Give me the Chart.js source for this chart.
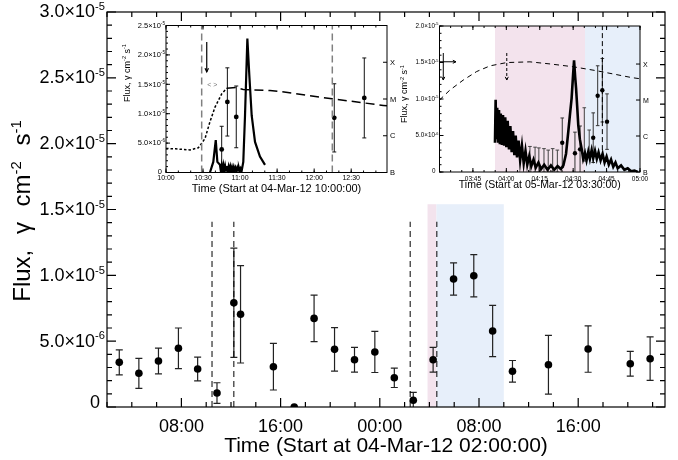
<!DOCTYPE html>
<html>
<head>
<meta charset="utf-8">
<title>Gamma-ray flux, 04-05 Mar 2012</title>
<script src="https://cdn.jsdelivr.net/npm/chart.js@4.4.1/dist/chart.umd.min.js"></script>
<style>
  html, body { margin: 0; padding: 0; background: #fff; }
  #wrap { position: relative; width: 678px; height: 460px; }
  canvas { position: absolute; }
  #main { left: 0; top: 0; }
  #inset1 { left: 112px; top: 12px; }
  #inset2 { left: 395px; top: 12px; }
</style>
</head>
<body>
<div id="wrap">
  <canvas id="main" width="678" height="460"></canvas>
  <canvas id="inset1" width="294" height="190"></canvas>
  <canvas id="inset2" width="283" height="190"></canvas>
</div>
<script>
const FONT = '"Liberation Sans", Arial, Helvetica, sans-serif';

// main panel: hours after 04-Mar-12 02:00:00, flux in units of 1e-6
const mainHours = [0.99, 2.57, 4.15, 5.76, 7.31, 8.87, 10.23, 10.77, 13.42, 15.1, 16.7, 18.35, 19.96,
                   21.6, 23.17, 24.7, 26.3, 27.95, 29.58, 31.1, 32.7, 35.6, 38.8, 42.2, 43.8];
const mainFlux = [3.39, 2.56, 3.49, 4.46, 2.89, 1.06, 7.92, 7.04, 3.06, 0.0, 6.73, 4.38, 3.59,
                  4.18, 2.22, 0.51, 3.59, 9.72, 9.97, 5.77, 2.71, 3.21, 4.40, 3.29, 3.67];
const mainErr = [0.95, 1.14, 0.98, 1.54, 0.90, 0.78, 4.15, 3.70, 1.77, 0.0, 1.76, 1.65, 0.94,
                 1.56, 0.74, 0.60, 0.94, 1.23, 1.60, 1.95, 0.82, 2.23, 1.76, 0.94, 1.65];
const mainDashHours = [8.47, 10.23, 24.45, 26.6];
const mainDashTop = 14.07;
const mainPink = [25.85, 26.57];
const mainBlue = [26.57, 32.0];
const mainBandTop = 15.4;
const mainXTicks = [6, 14, 22, 30, 38];
const mainXLabels = ["08:00", "16:00", "00:00", "08:00", "16:00"];
const mainYTicks = [0, 5, 10, 15, 20, 25, 30];
const mainYLabels = ["0", "5.0×10^{-6}", "1.0×10^{-5}", "1.5×10^{-5}", "2.0×10^{-5}", "2.5×10^{-5}", "3.0×10^{-5}"];

// inset 1: minutes after 04-Mar-12 10:00:00
const in1GoesAMin = [0, 7.8, 19.4, 26.2, 31.6, 35.6, 39.7, 45.1, 49.2];
const in1GoesA = [4.5e-7, 4.4e-7, 4.1e-7, 4.7e-7, 8.4e-7, 2.4e-6, 6.0e-6, 1.38e-5, 1.96e-5];
const in1GoesBMin = [49.2, 57.3, 62.6, 84.2, 92.3, 134.5, 176, 179];
const in1GoesB = [1.96e-5, 2.05e-5, 1.81e-5, 1.7e-5, 1.6e-5, 1.01e-5, 6.7e-6, 6.5e-6];
const in1CurveMin = [35.6, 38.3, 40.3, 41.6, 43.7,
                     44.4, 45.1, 45.8, 46.5, 47.2, 47.9, 48.6, 49.3, 50.0, 50.7, 51.4, 52.1,
                     52.8, 53.5, 54.2, 54.9, 55.6, 56.3, 57.0, 57.7, 58.4, 59.1, 59.8, 60.5,
                     61.3, 62.6, 64.0, 65.9, 67.5, 69.4, 72.1, 76.1, 80.2];
const in1Curve = [0, 1.8, 5.5, 1.8, 1.3,
                  0.3, 1.2, 0.3, 1.2, 0.3, 1.1, 0.3, 1.1, 0.3, 1.0, 0.3, 1.0,
                  0.3, 0.9, 0.3, 0.9, 0.3, 0.8, 0.3, 0.8, 0.3, 0.8, 0.3, 0.7,
                  0.3, 1.8, 9.7, 22.8, 16.5, 9.7, 5.2, 2.7, 1.3];
const in1PtMin = [45.1, 49.7, 56.9, 136.3, 160.6];
const in1PtFlux = [3.93, 12.0, 9.46, 9.29, 12.68];
const in1PtErr = [3.93, 5.8, 5.25, 5.8, 6.8];
const in1DashMin = [28.9, 134.7];
const in1XTicks = [0, 30, 60, 90, 120, 150];
const in1XLabels = ["10:00", "10:30", "11:00", "11:30", "12:00", "12:30"];
const in1YTicks = [0, 5, 10, 15, 20, 25];
const in1YLabels = ["0", "5.0×10^{-6}", "1.0×10^{-5}", "1.5×10^{-5}", "2.0×10^{-5}", "2.5×10^{-5}"];
const goesTicks = [1e-7, 1e-6, 1e-5, 1e-4, 1e-3];
const goesLabels = ["B", "C", "M", "X", ""];

// inset 2: minutes after 05-Mar-12 03:30:00
const in2GoesMin = [0, 4.7, 10.7, 16.7, 22.7, 30.2, 40.6, 50, 60, 70.6, 86.3, 90];
const in2Goes = [1.0e-5, 1.9e-5, 3.6e-5, 6.2e-5, 8.9e-5, 1.1e-4, 1.15e-4, 1.0e-4, 8.4e-5, 6.5e-5, 4.2e-5, 3.9e-5];
const in2CurveMin = [24.9, 25.2, 25.5, 25.9, 26.3, 26.7, 27.1, 27.5, 28, 28.5, 29, 29.5, 30, 30.6, 31.2, 31.8,
                     32.4, 33, 33.6, 34.2, 34.8, 35.5, 36.2, 37, 37.8, 38.6, 39.4, 40.3, 41.2, 42.2, 43.2,
                     44.4, 45.6, 47, 48.5, 50, 51.5, 53, 54.5, 55.6, 56.8, 57.8, 58.6, 59.3, 60, 60.4,
                     60.9, 61.3, 61.8, 62.3, 63, 63.8, 64.5, 65.3, 66, 66.8, 67.5, 68.3, 69, 69.8, 70.6,
                     71.4, 72.3, 73.2, 74.1, 75, 76, 77, 78, 79, 80, 81.5, 83, 84.5, 86, 87.5, 89];
const in2Curve = [4.0, 9.9, 4.5, 8.8, 4.2, 8.5, 3.8, 8.0, 3.7, 7.8, 3.6, 7.5, 3.4, 7.0, 3.1, 6.3,
                  2.7, 5.6, 2.3, 5.0, 2.0, 4.3, 1.6, 3.6, 1.2, 2.9, 1.0, 2.2, 0.8, 1.7, 0.6,
                  1.3, 0.4, 1.0, 0.3, 0.9, 0.3, 0.8, 0.4, 0.9, 2.5, 5.5, 8.0, 10.1, 13.5, 15.3,
                  13.0, 11.5, 9.0, 6.4, 4.5, 3.2, 1.8, 2.6, 1.6, 2.8, 1.8, 3.0, 1.9, 2.9, 1.8,
                  2.7, 1.6, 2.5, 1.3, 2.1, 1.0, 1.7, 0.7, 1.3, 0.5, 0.9, 0.3, 0.5, 0.1, 0.2, 0.0];
const in2PtMin = [55.1, 60.8, 63.1, 69.0, 71.0, 73.1, 75.2];
const in2PtFlux = [4.0, 2.56, 3.1, 4.7, 10.45, 11.2, 6.9];
const in2PtErr = [3.4, 2.9, 3.2, 3.4, 4.1, 4.35, 3.8];
const in2BarMin = [40.6, 42.9, 44.6, 46.9, 48.8, 50.8, 52.9, 65.0, 67.2];
const in2BarLo = [0, 0, 0, 0, 0, 0, 0, 1.5, 2.3];
const in2BarHi = [3.5, 3.4, 3.3, 3.2, 3.0, 3.2, 3.0, 8.8, 5.75];
const in2Pink = [24.9, 65.3];
const in2Blue = [65.3, 90];
const in2DashMin = 73.1;
const in2XTicks = [15, 30, 45, 60, 75, 90];
const in2XLabels = ["03:45", "04:00", "04:15", "04:30", "04:45", "05:00"];
const in2YTicks = [0, 5, 10, 15, 20];
const in2YLabels = ["0", "5.0×10^{-6}", "1.0×10^{-5}", "1.5×10^{-5}", "2.0×10^{-5}"];

const PINK = '#f3e3ed';
const BLUE = '#e7effa';

function range(from, to, step) {
  const out = [];
  for (let v = from; v <= to + 1e-9; v += step) out.push(+v.toFixed(6));
  return out;
}

function pts(xs, ys) {
  return xs.map((x, i) => ({ x: x, y: ys[i] }));
}

function line(xs, ys, color, width, dash, axis) {
  return { data: pts(xs, ys), showLine: true, pointRadius: 0, borderColor: color,
           borderWidth: width, borderDash: dash || [], yAxisID: axis || 'y' };
}

function dots(xs, ys, r) {
  return { data: pts(xs, ys), pointRadius: r, pointBackgroundColor: '#000',
           pointBorderWidth: 0, borderColor: '#000' };
}

// text with ^{...} superscripts
function drawRich(ctx, str, x, y, size, align, wordGap) {
  const parts = [];
  const re = /\^\{([^}]*)\}/g;
  let last = 0, m;
  while ((m = re.exec(str))) {
    if (m.index > last) parts.push({ t: str.slice(last, m.index), sup: false });
    parts.push({ t: m[1], sup: true });
    last = re.lastIndex;
  }
  if (last < str.length) parts.push({ t: str.slice(last), sup: false });
  ctx.wordSpacing = (wordGap || 0) + 'px';
  let w = 0;
  parts.forEach(p => {
    ctx.font = (p.sup ? size * 0.62 : size) + 'px ' + FONT;
    p.w = ctx.measureText(p.t).width;
    w += p.w;
  });
  let cx = align === 'right' ? x - w : align === 'center' ? x - w / 2 : x;
  ctx.textAlign = 'left';
  ctx.textBaseline = 'alphabetic';
  parts.forEach(p => {
    ctx.font = (p.sup ? size * 0.62 : size) + 'px ' + FONT;
    ctx.fillText(p.t, cx, p.sup ? y - size * 0.4 : y);
    cx += p.w;
  });
  ctx.wordSpacing = '0px';
}

function framePlugin(spec) {
  return {
    id: 'frame',
    beforeDatasetsDraw(chart) {
      const ctx = chart.ctx, a = chart.chartArea, sx = chart.scales.x;
      ctx.save();
      (spec.bands || []).forEach(b => {
        const sy = chart.scales.y;
        const x0 = sx.getPixelForValue(b.from), x1 = sx.getPixelForValue(b.to);
        const top = b.top == null ? a.top : sy.getPixelForValue(b.top);
        ctx.fillStyle = b.color;
        ctx.fillRect(x0, top, x1 - x0, a.bottom - top);
      });
      ctx.beginPath();
      ctx.rect(a.left, a.top, a.right - a.left, a.bottom - a.top);
      ctx.clip();
      (spec.bars || []).forEach(b => {
        const sy = chart.scales.y;
        ctx.strokeStyle = b.color;
        ctx.lineWidth = b.width;
        b.t.forEach((t, i) => {
          if (b.hi[i] === b.lo[i]) return;
          const px = sx.getPixelForValue(t);
          const p0 = sy.getPixelForValue(b.lo[i]), p1 = sy.getPixelForValue(b.hi[i]);
          ctx.beginPath();
          ctx.moveTo(px, p0); ctx.lineTo(px, p1);
          ctx.moveTo(px - b.cap, p0); ctx.lineTo(px + b.cap, p0);
          ctx.moveTo(px - b.cap, p1); ctx.lineTo(px + b.cap, p1);
          ctx.stroke();
        });
      });
      ctx.restore();
    },
    afterDatasetsDraw(chart) {
      const ctx = chart.ctx, a = chart.chartArea, sx = chart.scales.x, sy = chart.scales.y;
      ctx.save();
      (spec.arrows || []).forEach(ar => {
        const x0 = sx.getPixelForValue(ar.x0), y0 = sy.getPixelForValue(ar.y0);
        const x1 = sx.getPixelForValue(ar.x1), y1 = sy.getPixelForValue(ar.y1);
        ctx.strokeStyle = '#000';
        ctx.lineWidth = ar.width || 1;
        ctx.setLineDash(ar.dash || []);
        ctx.beginPath(); ctx.moveTo(x0, y0); ctx.lineTo(x1, y1); ctx.stroke();
        ctx.setLineDash([]);
        const ang = Math.atan2(y1 - y0, x1 - x0), h = ar.head || 4;
        ctx.beginPath();
        ctx.moveTo(x1 - h * Math.cos(ang - 0.45), y1 - h * Math.sin(ang - 0.45));
        ctx.lineTo(x1, y1);
        ctx.lineTo(x1 - h * Math.cos(ang + 0.45), y1 - h * Math.sin(ang + 0.45));
        ctx.stroke();
      });
      (spec.notes || []).forEach(n => {
        ctx.fillStyle = n.color;
        drawRich(ctx, n.text, sx.getPixelForValue(n.x), sy.getPixelForValue(n.y), n.size, 'center');
      });

      // box and inward ticks
      ctx.strokeStyle = '#000';
      ctx.lineWidth = spec.lw;
      ctx.strokeRect(a.left, a.top, a.right - a.left, a.bottom - a.top);
      const tM = spec.tick[0], tm = spec.tick[1];
      ctx.beginPath();
      const xt = (v, len) => {
        const p = sx.getPixelForValue(v);
        ctx.moveTo(p, a.bottom); ctx.lineTo(p, a.bottom - len);
        ctx.moveTo(p, a.top); ctx.lineTo(p, a.top + len);
      };
      spec.x.minor.forEach(v => xt(v, tm));
      spec.x.ticks.forEach(v => xt(v, tM));
      const yt = (v, len) => {
        const p = sy.getPixelForValue(v);
        ctx.moveTo(a.left, p); ctx.lineTo(a.left + len, p);
        if (!spec.y2) { ctx.moveTo(a.right, p); ctx.lineTo(a.right - len, p); }
      };
      spec.y.minor.forEach(v => yt(v, tm));
      spec.y.ticks.forEach(v => yt(v, tM));
      if (spec.y2) {
        const s2 = chart.scales.y2;
        spec.y2.ticks.forEach(v => {
          const p = s2.getPixelForValue(v);
          ctx.moveTo(a.right, p); ctx.lineTo(a.right - tM, p);
        });
      }
      ctx.stroke();

      // labels
      ctx.fillStyle = '#000';
      spec.x.labels.forEach((s, i) => {
        drawRich(ctx, s, sx.getPixelForValue(spec.x.ticks[i]), a.bottom + spec.x.base, spec.x.size, 'center');
      });
      spec.y.labels.forEach((s, i) => {
        const p = sy.getPixelForValue(spec.y.ticks[i]);
        const base = Math.min(p + spec.y.size * 0.3, a.bottom + 1);
        const right = s.indexOf('^') >= 0 ? a.left - spec.y.gap : a.left - spec.y.gap0;
        drawRich(ctx, s, right, base, spec.y.size, 'right');
      });
      if (spec.y2) {
        const s2 = chart.scales.y2;
        spec.y2.labels.forEach((s, i) => {
          if (!s) return;
          const p = s2.getPixelForValue(spec.y2.ticks[i]);
          drawRich(ctx, s, a.right + spec.y2.gap, p + spec.y2.size * 0.36, spec.y2.size, 'left');
        });
      }
      drawRich(ctx, spec.xTitle.text, (a.left + a.right) / 2, a.bottom + spec.xTitle.base, spec.xTitle.size, 'center');
      ctx.translate(a.left - spec.yTitle.dx, spec.yTitle.y);
      ctx.rotate(-Math.PI / 2);
      drawRich(ctx, spec.yTitle.text, 0, spec.yTitle.size * 0.35, spec.yTitle.size, 'center', spec.yTitle.gap);
      ctx.restore();
    }
  };
}

function hidden(extra) {
  return Object.assign({ ticks: { display: false }, grid: { display: false }, border: { display: false } }, extra);
}

function baseOptions(padTop, padRight, scales) {
  return {
    responsive: false,
    animation: false,
    events: [],
    layout: { padding: { top: padTop, right: padRight, left: 0, bottom: 0 } },
    plugins: { legend: { display: false }, tooltip: { enabled: false } },
    scales: scales
  };
}

// ---------------- main panel
new Chart(document.getElementById('main'), {
  type: 'scatter',
  data: {
    datasets: mainDashHours.map(h => line([h, h], [0, mainDashTop], '#000', 1, [6, 4]))
      .concat([dots(mainHours, mainFlux, 3.8)])
  },
  options: baseOptions(12, 13, {
    x: hidden({ type: 'linear', min: 0, max: 45, afterFit: s => { s.height = 53; } }),
    y: hidden({ type: 'linear', min: 0, max: 30, afterFit: s => { s.width = 107; } })
  }),
  plugins: [framePlugin({
    lw: 1.2,
    tick: [9, 5],
    bands: [
      { from: mainPink[0], to: mainPink[1], top: mainBandTop, color: PINK },
      { from: mainBlue[0], to: mainBlue[1], top: mainBandTop, color: BLUE }
    ],
    bars: [{ t: mainHours, lo: mainFlux.map((v, i) => v - mainErr[i]), hi: mainFlux.map((v, i) => v + mainErr[i]),
             color: '#222', width: 1.2, cap: 3.5 }],
    x: { ticks: mainXTicks, minor: range(0, 44, 2), labels: mainXLabels, size: 18, base: 25 },
    y: { ticks: mainYTicks, minor: range(0, 30, 1), labels: mainYLabels, size: 18, gap: 2, gap0: 7 },
    xTitle: { text: 'Time (Start at 04-Mar-12 02:00:00)', size: 21, base: 45 },
    yTitle: { text: 'Flux, γ cm^{-2} s^{-1}', size: 24, dx: 85, y: 211, gap: 9 }
  })]
});

// ---------------- inset 1 (04-Mar-12 flare)
new Chart(document.getElementById('inset1'), {
  type: 'scatter',
  data: {
    datasets: in1DashMin.map(t => line([t, t], [0, 25], '#808080', 1.5, [7, 4]))
      .concat([
        line(in1GoesAMin, in1GoesA, '#000', 1.5, [2.5, 2], 'y2'),
        line(in1GoesBMin, in1GoesB, '#000', 1.5, [9, 5], 'y2'),
        line(in1CurveMin, in1Curve, '#000', 2.2),
        dots(in1PtMin, in1PtFlux, 2.4)
      ])
  },
  options: baseOptions(13.5, 0, {
    x: hidden({ type: 'linear', min: 0, max: 179, afterFit: s => { s.height = 29.5; } }),
    y: hidden({ type: 'linear', min: 0, max: 25, afterFit: s => { s.width = 54; } }),
    y2: hidden({ type: 'logarithmic', position: 'right', min: 1e-7, max: 1e-3, afterFit: s => { s.width = 19; } })
  }),
  plugins: [framePlugin({
    lw: 1,
    tick: [4, 2],
    bars: [{ t: in1PtMin, lo: in1PtFlux.map((v, i) => v - in1PtErr[i]), hi: in1PtFlux.map((v, i) => v + in1PtErr[i]),
             color: '#111', width: 1, cap: 2 }],
    arrows: [{ x0: 33, y0: 22.2, x1: 33, y1: 17.1, width: 1.2, head: 4 }],
    notes: [{ text: '< >', x: 37.5, y: 14.6, size: 7, color: '#777' }],
    x: { ticks: in1XTicks, minor: range(0, 170, 10), labels: in1XLabels, size: 7, base: 7.5 },
    y: { ticks: in1YTicks, minor: range(0, 25, 1), labels: in1YLabels, size: 7.5, gap: 1, gap0: 4 },
    y2: { ticks: goesTicks, labels: goesLabels, size: 7.5, gap: 3 },
    xTitle: { text: 'Time (Start at 04-Mar-12 10:00:00)', size: 11, base: 19.5 },
    yTitle: { text: 'Flux, γ cm^{-2} s^{-1}', size: 9, dx: 39.3, y: 61 }
  })]
});

// ---------------- inset 2 (05-Mar-12 flare)
new Chart(document.getElementById('inset2'), {
  type: 'scatter',
  data: {
    datasets: [
      line([in2DashMin, in2DashMin], [3.0, 20], '#000', 1, [5, 3]),
      line(in2GoesMin, in2Goes, '#000', 1, [5, 4], 'y2'),
      line(in2CurveMin, in2Curve, '#000', 2.6),
      dots(in2PtMin, in2PtFlux, 2.2)
    ]
  },
  options: baseOptions(14, 0, {
    x: hidden({ type: 'linear', min: 0, max: 90, afterFit: s => { s.height = 30; } }),
    y: hidden({ type: 'linear', min: 0, max: 20, afterFit: s => { s.width = 44.5; } }),
    y2: hidden({ type: 'logarithmic', position: 'right', min: 1e-7, max: 1.14e-3, afterFit: s => { s.width = 38; } })
  }),
  plugins: [framePlugin({
    lw: 1,
    tick: [4, 2],
    bands: [
      { from: in2Pink[0], to: in2Pink[1], color: PINK },
      { from: in2Blue[0], to: in2Blue[1], color: BLUE }
    ],
    bars: [
      { t: in2BarMin, lo: in2BarLo, hi: in2BarHi, color: '#444', width: 1, cap: 1.8 },
      { t: in2PtMin, lo: in2PtFlux.map((v, i) => v - in2PtErr[i]), hi: in2PtFlux.map((v, i) => v + in2PtErr[i]),
        color: '#333', width: 1, cap: 1.8 }
    ],
    arrows: [
      { x0: 1.7, y0: 16.3, x1: 1.7, y1: 12.6, width: 1, head: 3.5 },
      { x0: 0.2, y0: 15.1, x1: 7.4, y1: 15.1, width: 1, head: 3.5 },
      { x0: 30.2, y0: 16.3, x1: 30.2, y1: 12.6, width: 1, head: 3.5, dash: [3, 2] }
    ],
    x: { ticks: in2XTicks, minor: range(0, 90, 5), labels: in2XLabels, size: 6.5, base: 8.5 },
    y: { ticks: in2YTicks, minor: range(0, 20, 1), labels: in2YLabels, size: 6.3, gap: 1, gap0: 4 },
    y2: { ticks: goesTicks.slice(0, 4), labels: goesLabels.slice(0, 4), size: 7, gap: 3 },
    xTitle: { text: 'Time (Start at 05-Mar-12 03:30:00)', size: 10.5, base: 16 },
    yTitle: { text: 'Flux, γ cm^{-2} s^{-1}', size: 9, dx: 35.5, y: 82 }
  })]
});
</script>
</body>
</html>
